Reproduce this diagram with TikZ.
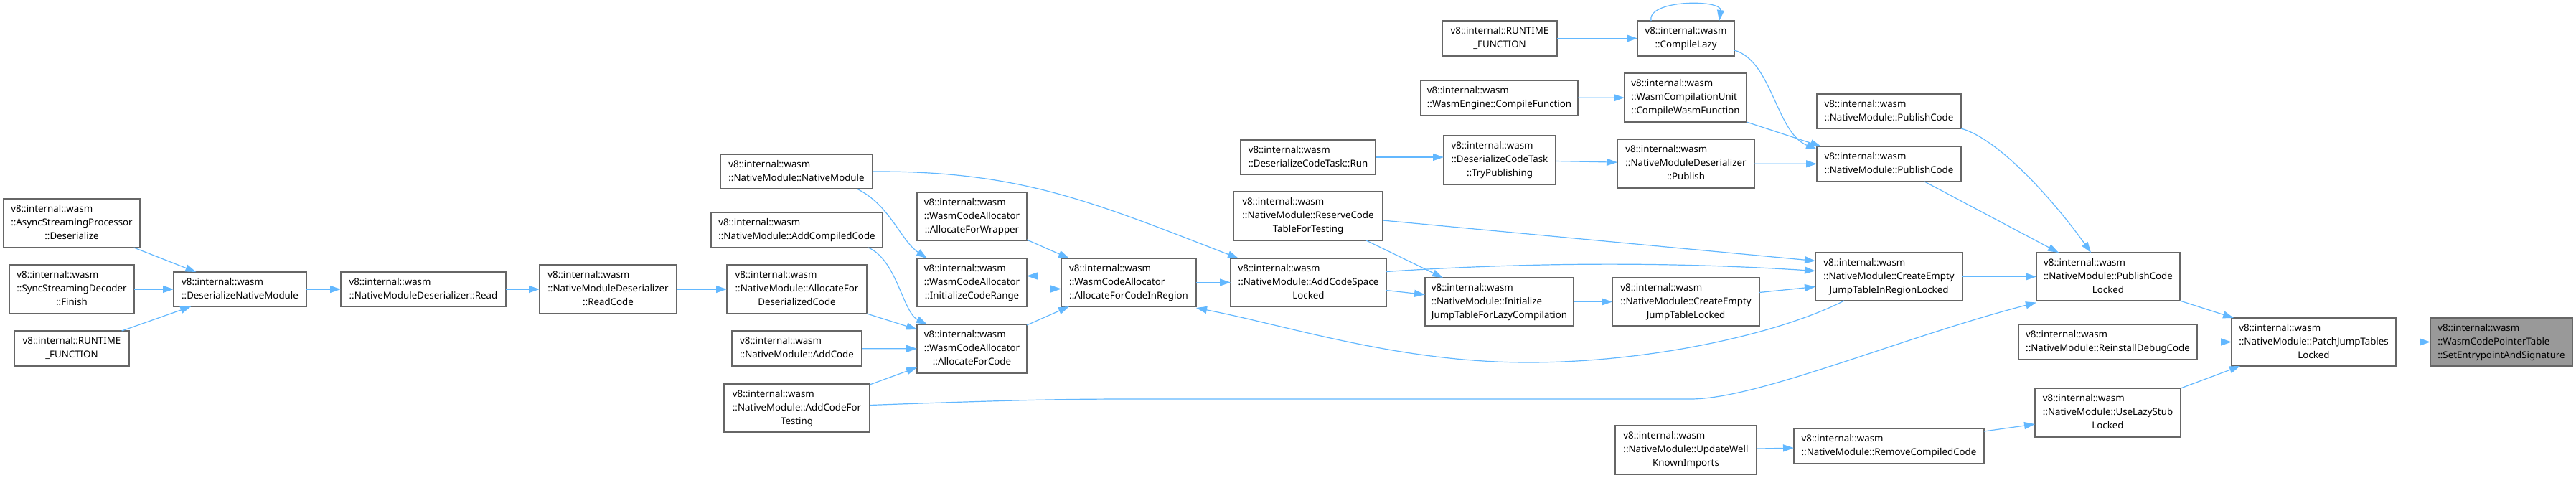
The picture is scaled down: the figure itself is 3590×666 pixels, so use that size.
\documentclass[tikz,border=0pt]{standalone}
\usepackage{fontspec}
\setmainfont{Noto Sans}
\usetikzlibrary{arrows.meta,calc}
\definecolor{edgeblue}{HTML}{63B8FF}
\definecolor{boxgray}{HTML}{666666}
\definecolor{hlgray}{HTML}{999999}
\newcommand\lastl[1]{\multicolumn{1}{@{}c@{}}{#1}}
\newcommand\tb[1]{\begin{tabular}{@{}l@{}}#1\end{tabular}}
\newcommand\mknode[7][]{\node[box,#1,minimum width={#5pt-#3pt},minimum height={#6pt-#4pt}] (#2) at ({(#3+#5)/2},{(#4+#6)/2}) {\tb{#7}};}
\begin{document}
\begin{tikzpicture}[x=1pt,y=-1pt,
  box/.style={draw=boxgray,line width=1.2pt,fill=white,inner sep=0pt,outer sep=0pt,
    font=\fontsize{13.3}{19}\selectfont},
  hl/.style={fill=hlgray},
  e/.style={draw=edgeblue,line width=1.2pt,-{Triangle[length=15pt,width=10pt]}}]
\useasboundingbox (0,0) rectangle (3590,666);

% nodes
\mknode{async}{5}{277}{195}{345}{v8::internal::wasm\\::AsyncStreamingProcessor\\\lastl{::Deserialize}}
\mknode{sync}{13}{369}{187}{437}{v8::internal::wasm\\::SyncStreamingDecoder\\\lastl{::Finish}}
\mknode{rtl}{20}{461}{180}{510}{v8::internal::RUNTIME\\\lastl{\_FUNCTION}}
\mknode{dnm}{242}{379}{427}{427}{v8::internal::wasm\\\lastl{::DeserializeNativeModule}}
\mknode{read}{475}{379}{705}{427}{v8::internal::wasm\\\lastl{::NativeModuleDeserializer::Read}}
\mknode{readcode}{752}{369}{943}{437}{v8::internal::wasm\\::NativeModuleDeserializer\\\lastl{::ReadCode}}
\mknode{nmnm}{1004}{215}{1216}{263}{v8::internal::wasm\\\lastl{::NativeModule::NativeModule}}
\mknode{addcompiled}{991}{296}{1230}{345}{v8::internal::wasm\\\lastl{::NativeModule::AddCompiledCode}}
\mknode{allocdeser}{1013}{369}{1208}{437}{v8::internal::wasm\\::NativeModule::AllocateFor\\\lastl{DeserializedCode}}
\mknode{addcode}{1020}{461}{1201}{510}{v8::internal::wasm\\\lastl{::NativeModule::AddCode}}
\mknode{addtesting}{1009}{535}{1212}{602}{v8::internal::wasm\\::NativeModule::AddCodeFor\\\lastl{Testing}}
\mknode{allocwrapper}{1278}{268}{1431}{335}{v8::internal::wasm\\::WasmCodeAllocator\\\lastl{::AllocateForWrapper}}
\mknode{initrange}{1278}{360}{1431}{427}{v8::internal::wasm\\::WasmCodeAllocator\\\lastl{::InitializeCodeRange}}
\mknode{alloccode}{1278}{452}{1431}{520}{v8::internal::wasm\\::WasmCodeAllocator\\\lastl{::AllocateForCode}}
\mknode{allocregion}{1479}{360}{1667}{427}{v8::internal::wasm\\::WasmCodeAllocator\\\lastl{::AllocateForCodeInRegion}}
\mknode{addspace}{1715}{360}{1932}{427}{v8::internal::wasm\\::NativeModule::AddCodeSpace\\\lastl{Locked}}
\mknode{run}{1729}{195}{1917}{243}{v8::internal::wasm\\\lastl{::DeserializeCodeTask::Run}}
\mknode{reserve}{1719}{267}{1927}{335}{v8::internal::wasm\\::NativeModule::ReserveCode\\\lastl{TableForTesting}}
\mknode{trypub}{2012}{189}{2168}{257}{v8::internal::wasm\\::DeserializeCodeTask\\\lastl{::TryPublishing}}
\mknode{compilefn}{1980}{112}{2199}{161}{v8::internal::wasm\\\lastl{::WasmEngine::CompileFunction}}
\mknode{rtt}{2010}{29}{2170}{78}{v8::internal::RUNTIME\\\lastl{\_FUNCTION}}
\mknode{lazy}{2282}{29}{2417}{78}{v8::internal::wasm\\\lastl{::CompileLazy}}
\mknode{wasmfn}{2264}{102}{2434}{170}{v8::internal::wasm\\::WasmCompilationUnit\\\lastl{::CompileWasmFunction}}
\mknode{publish}{2254}{194}{2445}{262}{v8::internal::wasm\\::NativeModuleDeserializer\\\lastl{::Publish}}
\mknode{initjump}{1986}{387}{2193}{454}{v8::internal::wasm\\::NativeModule::Initialize\\\lastl{JumpTableForLazyCompilation}}
\mknode{emptylocked}{2247}{387}{2452}{454}{v8::internal::wasm\\::NativeModule::CreateEmpty\\\lastl{JumpTableLocked}}
\mknode{updatewell}{2251}{593}{2448}{661}{v8::internal::wasm\\::NativeModule::UpdateWell\\\lastl{KnownImports}}
\mknode{removecompiled}{2500}{597}{2765}{646}{v8::internal::wasm\\\lastl{::NativeModule::RemoveCompiledCode}}
\mknode{pubcode1}{2532}{131}{2733}{179}{v8::internal::wasm\\\lastl{::NativeModule::PublishCode}}
\mknode{pubcode2}{2532}{204}{2733}{253}{v8::internal::wasm\\\lastl{::NativeModule::PublishCode}}
\mknode{emptyregion}{2530}{352}{2735}{419}{v8::internal::wasm\\::NativeModule::CreateEmpty\\\lastl{JumpTableInRegionLocked}}
\mknode{pcl}{2838}{352}{3038}{419}{v8::internal::wasm\\::NativeModule::PublishCode\\\lastl{Locked}}
\mknode{reinstall}{2813}{452}{3062}{501}{v8::internal::wasm\\\lastl{::NativeModule::ReinstallDebugCode}}
\mknode{uselazy}{2836}{541}{3039}{609}{v8::internal::wasm\\::NativeModule::UseLazyStub\\\lastl{Locked}}
\mknode{patch}{3110}{443}{3339}{510}{v8::internal::wasm\\::NativeModule::PatchJumpTables\\\lastl{Locked}}
\mknode[hl]{setentry}{3387}{443}{3585}{510}{v8::internal::wasm\\::WasmCodePointerTable\\\lastl{::SetEntrypointAndSignature}}

% edges
\draw[e] (async) -- (dnm);
\draw[e] (sync) -- (dnm);
\draw[e] (rtl) -- (dnm);
\draw[e] (dnm) -- (read);
\draw[e] (read) -- (readcode);
\draw[e] (readcode) -- (allocdeser);
\draw[e] ($(nmnm.south east)+(-22,0)$) .. controls (1240,285) and (1255,335) .. ($(initrange.north west)+(14,0)$);
\draw[e] (nmnm.east) .. controls (1420,238) and (1520,280) .. ($(addspace.north west)+(11,0)$);
\draw[e] ($(addcompiled.south east)+(-20,0)$) .. controls (1250,362) and (1258,435) .. ($(alloccode.north west)+(14,0)$);
\draw[e] (allocdeser.south east) -- ($(alloccode.north west)+(0,7)$);
\draw[e] (addcode) -- (alloccode);
\draw[e] ($(addtesting.north east)+(0,1)$) -- ($(alloccode.south west)+(0,-8)$);
\draw[e] ($(addtesting.east)+(0,-4)$) .. controls (1450,556) and (1500,556) .. (1600,556) -- (2356,556) .. controls (2450,556) and (2650,470) .. ($(pcl.west)+(0,36)$);
\draw[e] ($(allocwrapper.south east)+(0,-1)$) -- ($(allocregion.north west)+(11,0)$);
\draw[e] ($(allocregion.west)+(0,-9)$) -- ($(initrange.east)+(0,-9)$);
\draw[e] ($(initrange.east)+(0,9)$) -- ($(allocregion.west)+(0,9)$);
\draw[e] ($(alloccode.north east)+(0,1)$) -- ($(allocregion.south west)+(11,0)$);
\draw[e] (allocregion) -- (addspace);
\draw[e] ($(addspace.east)+(0,11)$) -- ($(initjump.west)+(0,-10)$);
\draw[e] ($(addspace.east)+(0,-15)$) .. controls (2150,364) and (2350,366) .. ($(emptyregion.west)+(0,-8)$);
\draw[e] ($(reserve.south east)+(-23,0)$) -- ($(initjump.north west)+(25,0)$);
\draw[e] ($(reserve.east)+(0,6)$) -- ($(emptyregion.west)+(0,-22)$);
\draw[e] (initjump) -- (emptylocked);
\draw[e] ($(emptylocked.east)+(0,-13)$) -- ($(emptyregion.west)+(0,14)$);
\draw[e] ($(emptyregion.south west)+(40,0)$) .. controls (2480,465) and (2300,505) .. (2130,505) .. controls (1950,505) and (1800,455) .. ($(allocregion.south east)+(0,2)$);
\draw[e] (emptyregion) -- (pcl);
\draw[e] (run.east) -- (run.east -| trypub.west);
\draw[e] (trypub) -- (publish);
\draw[e] (publish) -- (pubcode2);
\draw[e] (rtt) -- (lazy);
\draw[e] ($(lazy.north west)+(19,0)$) .. controls (2295,-1) and (2400,-1) .. ($(lazy.north east)+(-21,0)$);
\draw[e] ($(lazy.south east)+(0,-8)$) .. controls (2470,85) and (2475,185) .. ($(pubcode2.north west)+(0,4)$);
\draw[e] (compilefn) -- (wasmfn);
\draw[e] (wasmfn.south east) -- ($(pubcode2.north west)+(6,0)$);
\draw[e] (pubcode1.south east) .. controls (2790,195) and (2870,290) .. ($(pcl.north west)+(76,0)$);
\draw[e] ($(pubcode2.south east)+(-51,0)$) -- ($(pcl.north west)+(31,0)$);
\draw[e] (pcl.south east) -- ($(patch.north west)+(3,0)$);
\draw[e] (reinstall) -- (patch);
\draw[e] (uselazy.north east) -- ($(patch.south west)+(12,0)$);
\draw[e] (updatewell) -- (removecompiled);
\draw[e] ($(removecompiled.north east)+(0,4)$) -- ($(uselazy.west)+(0,16)$);
\draw[e] (patch) -- (setentry);
\end{tikzpicture}
\end{document}
